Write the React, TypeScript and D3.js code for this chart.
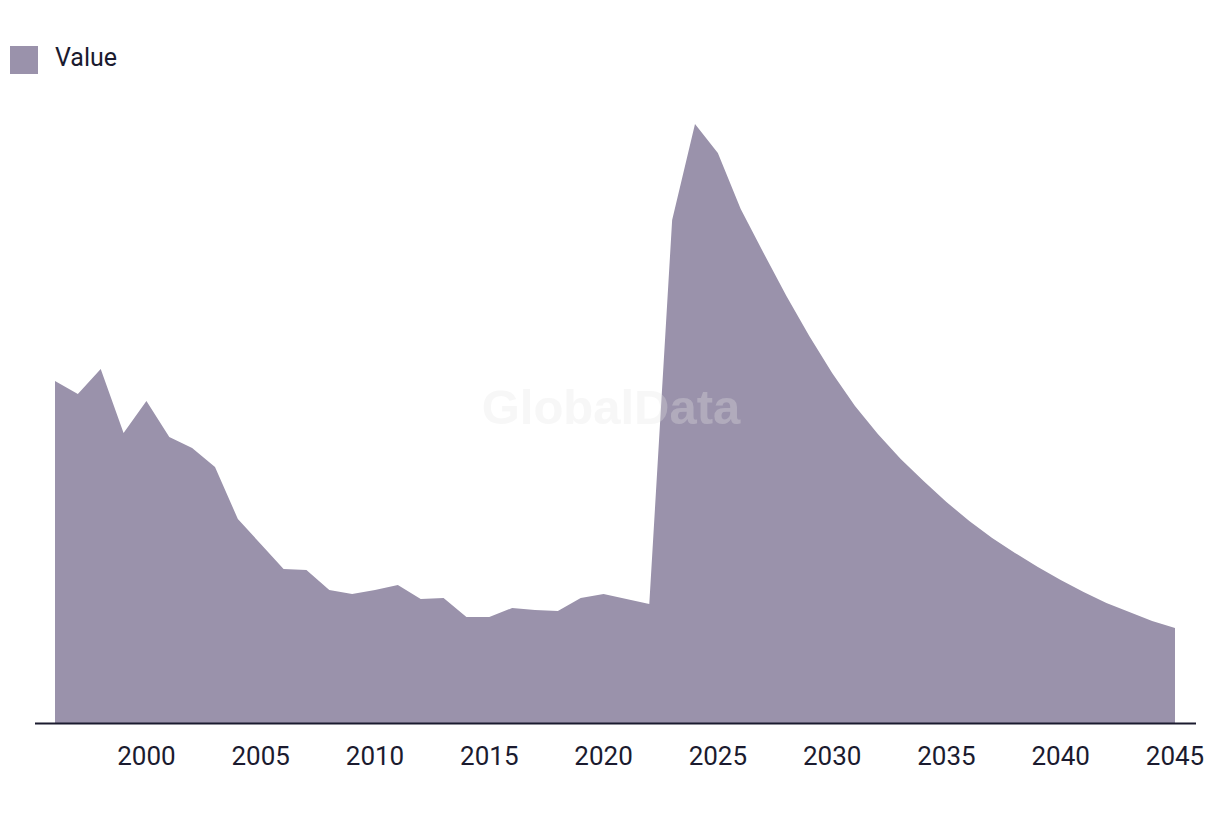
import React from "react";
import * as d3 from "d3";

const years: number[] = [
  1996, 1997, 1998, 1999, 2000, 2001, 2002, 2003, 2004, 2005,
  2006, 2007, 2008, 2009, 2010, 2011, 2012, 2013, 2014, 2015,
  2016, 2017, 2018, 2019, 2020, 2021, 2022, 2023, 2024, 2025,
  2026, 2027, 2028, 2029, 2030, 2031, 2032, 2033, 2034, 2035,
  2036, 2037, 2038, 2039, 2040, 2041, 2042, 2043, 2044, 2045,
];

const values: number[] = [
  342, 329, 354, 290, 322, 286, 275, 256, 204, 179,
  154, 153, 133, 129, 133, 138, 124, 125, 106, 106,
  115, 113, 112, 125, 129, 124, 119, 503, 599, 570,
  514, 470, 427, 387, 350, 317, 289, 264, 242, 221,
  202, 185, 170, 156, 143, 131, 120, 111, 102, 95,
];

const tickYears: number[] = [2000, 2005, 2010, 2015, 2020, 2025, 2030, 2035, 2040, 2045];

const seriesName = "Value";
const watermark = "GlobalData";

const W = 1220;
const H = 814;
const AREA_COLOR = "#9a92ab";
const INK = "#1b1b2f";
const FONT = "Roboto, 'Liberation Sans', Arial, sans-serif";

export default function App() {
  const x = d3.scaleLinear().domain([1996, 2045]).range([55, 1175]);
  const y = d3.scaleLinear().domain([0, 600]).range([723, 123]);

  const data = years.map((yr, i) => ({ yr, v: values[i] }));
  const area = d3
    .area<{ yr: number; v: number }>()
    .x((d) => x(d.yr))
    .y0(y(0))
    .y1((d) => y(d.v))
    .curve(d3.curveLinear);

  return (
    <svg
      width={W}
      height={H}
      style={{ position: "absolute", left: 0, top: 0, background: "#fff" }}
    >
      <rect x={0} y={0} width={W} height={H} fill="#fff" />
      {/* legend */}
      <rect x={10} y={46} width={28} height={28} fill={AREA_COLOR} />
      <text x={55} y={66} fontFamily={FONT} fontSize={25} fill={INK}>
        {seriesName}
      </text>

      <path d={area(data) || ""} fill={AREA_COLOR} />

      {/* watermark */}
      <text
        x={611}
        y={424}
        textAnchor="middle"
        fontFamily="'Liberation Sans', Arial, sans-serif"
        fontWeight="bold"
        fontSize={49}
        fill="#e6e6e6"
        opacity={0.3}
      >
        {watermark}
      </text>

      {/* x axis */}
      <line x1={35} x2={1196} y1={723.5} y2={723.5} stroke={INK} strokeWidth={2} />
      {tickYears.map((t) => (
        <text
          key={t}
          x={x(t)}
          y={765}
          textAnchor="middle"
          fontFamily={FONT}
          fontSize={26}
          fill={INK}
        >
          {t}
        </text>
      ))}
    </svg>
  );
}
